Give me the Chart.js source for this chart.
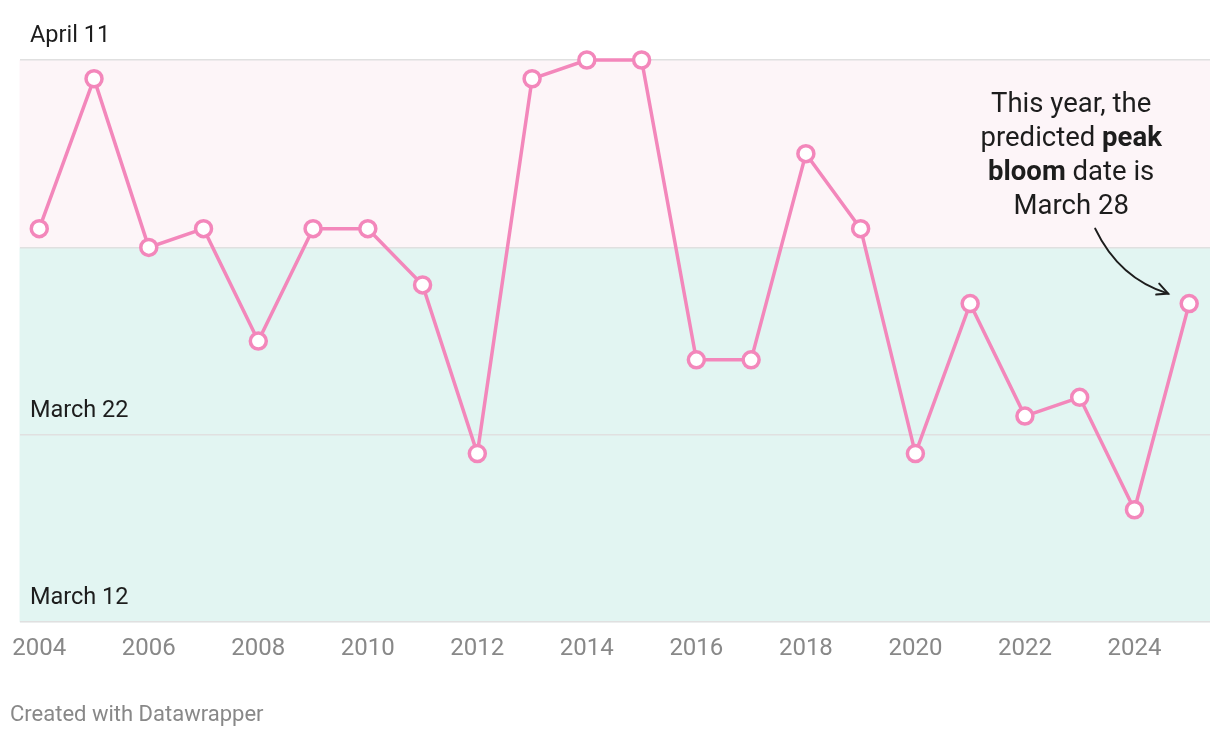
<!DOCTYPE html>
<html>
<head>
<meta charset="utf-8">
<script src="https://cdn.jsdelivr.net/npm/chart.js@4"></script>
<style>
  body { margin: 0; background: #fff; }
  #wrap { position: relative; width: 1220px; height: 738px; }
</style>
</head>
<body>
<div id="wrap"><canvas id="bloomChart" width="1220" height="738"></canvas></div>

<script>
// peak bloom date as day of year
var years = [2004, 2005, 2006, 2007, 2008, 2009, 2010, 2011, 2012, 2013, 2014,
             2015, 2016, 2017, 2018, 2019, 2020, 2021, 2022, 2023, 2024, 2025];
var bloomDay = [91, 99, 90, 91, 85, 91, 91, 88, 79, 99, 100,
                100, 84, 84, 95, 91, 79, 87, 81, 82, 76, 87];

var yTickValues = [70, 80, 100];
var yTickLabels = ['March 12', 'March 22', 'April 11'];
var xTickYears = [2004, 2006, 2008, 2010, 2012, 2014, 2016, 2018, 2020, 2022, 2024];

var noteLines = [
    [['This year, the', false]],
    [['predicted ', false], ['peak', true]],
    [['bloom', true], [' date is', false]],
    [['March 28', false]]
];

var pink = '#f387bb';

var bandsPlugin = {
    id: 'bands',
    beforeDraw: function(chart) {
        var ctx = chart.ctx, a = chart.chartArea, y = chart.scales.y;
        var y90 = y.getPixelForValue(90);
        ctx.save();
        ctx.fillStyle = '#fdf5f8';
        ctx.fillRect(a.left, y.getPixelForValue(100), a.right - a.left, y90 - y.getPixelForValue(100));
        ctx.fillStyle = '#e2f5f2';
        ctx.fillRect(a.left, y90, a.right - a.left, y.getPixelForValue(70) - y90);
        ctx.restore();
    },
    beforeDatasetsDraw: function(chart) {
        var ctx = chart.ctx, y = chart.scales.y;
        ctx.save();
        ctx.font = '23.5px Roboto';
        ctx.fillStyle = '#1d1d1d';
        ctx.textBaseline = 'alphabetic';
        for (var i = 0; i < yTickValues.length; i++) {
            ctx.fillText(yTickLabels[i], 30, y.getPixelForValue(yTickValues[i]) - 18);
        }
        ctx.restore();
    },
    afterDraw: function(chart) {
        var ctx = chart.ctx;
        var last = chart.getDatasetMeta(0).data[years.length - 1];
        var px = last.x, py = last.y;

        // annotation text
        ctx.save();
        ctx.fillStyle = '#1d1d1d';
        ctx.textBaseline = 'middle';
        var cx = px - 118, top = py - 198;
        noteLines.forEach(function(line, i) {
            var w = 0;
            line.forEach(function(seg) {
                ctx.font = (seg[1] ? 'bold ' : '') + '27.5px Roboto';
                w += ctx.measureText(seg[0]).width;
            });
            var x = cx - w / 2;
            line.forEach(function(seg) {
                ctx.font = (seg[1] ? 'bold ' : '') + '27.5px Roboto';
                ctx.fillText(seg[0], x, top + i * 33.7);
                x += ctx.measureText(seg[0]).width;
            });
        });

        // arrow
        var sx = px - 94, sy = py - 75, ex = px - 21, ey = py - 10;
        ctx.strokeStyle = '#1d1d1d';
        ctx.lineWidth = 2;
        ctx.lineCap = 'round';
        ctx.beginPath();
        ctx.moveTo(sx, sy);
        ctx.quadraticCurveTo(px - 70, py - 25, ex, ey);
        ctx.stroke();
        ctx.beginPath();
        ctx.moveTo(ex - 9, ey - 10);
        ctx.lineTo(ex, ey);
        ctx.lineTo(ex - 12, ey + 1);
        ctx.stroke();

        // footer
        ctx.font = '22px Roboto';
        ctx.fillStyle = '#888888';
        ctx.textBaseline = 'middle';
        ctx.fillText('Created with Datawrapper', 10, 715);
        ctx.restore();
    }
};

var ctx = document.getElementById('bloomChart').getContext('2d');
var bloomChart = new Chart(ctx, {
    type: 'line',
    data: {
        labels: years,
        datasets: [{
            data: years.map(function(yr, i) { return {x: yr, y: bloomDay[i]}; }),
            borderColor: pink,
            borderWidth: 3.5,
            pointRadius: 8,
            pointBorderWidth: 3.5,
            pointBackgroundColor: '#ffffff',
            pointBorderColor: pink,
            tension: 0,
            clip: false
        }]
    },
    options: {
        responsive: false,
        animation: false,
        layout: { autoPadding: false, padding: { left: 17, right: 10, top: 60, bottom: 63 } },
        plugins: { legend: { display: false }, tooltip: { enabled: false } },
        scales: {
            x: {
                type: 'linear',
                min: 2003.64,
                max: 2025.38,
                afterBuildTicks: function(s) {
                    s.ticks = xTickYears.map(function(v) { return {value: v}; });
                },
                grid: { display: false, drawTicks: false },
                border: { display: false },
                ticks: {
                    padding: 12,
                    color: '#888888',
                    font: { family: 'Roboto', size: 24 },
                    maxRotation: 0,
                    callback: function(v) { return String(v); }
                }
            },
            y: {
                min: 70,
                max: 100,
                afterBuildTicks: function(s) {
                    s.ticks = [70, 80, 90, 100].map(function(v) { return {value: v}; });
                },
                grid: { color: '#e0e0e0', lineWidth: 1.5, drawTicks: false },
                border: { display: false },
                ticks: { display: false }
            }
        }
    },
    plugins: [bandsPlugin]
});
</script>
</body>
</html>
